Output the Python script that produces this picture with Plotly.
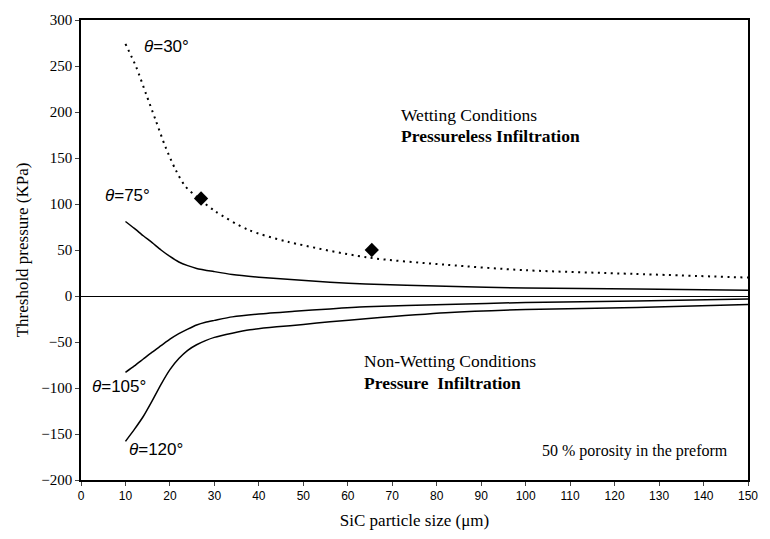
import plotly.graph_objects as go

# theta = 30 deg (dotted)
x30 = [10, 12.4, 14.6, 16.8, 19, 21.3, 23.5, 26.5, 30.2, 37.6, 46.5, 64.3, 82, 100, 124.5, 150]
y30 = [274, 249, 220, 191, 162, 137, 119, 106, 92, 72, 59, 42, 34, 28, 24, 20]
# theta = 75 deg
x75 = [10, 12, 14, 16, 18, 20, 22, 24, 26, 30, 34, 40, 48, 56, 64, 82, 100, 125, 150]
y75 = [81, 73.5, 65.5, 58, 50, 43, 37, 33, 30, 26.5, 23.4, 20.5, 17.6, 15, 13, 10.5, 8.7, 7.6, 6.2]
# theta = 105 deg
x105 = [10, 12, 14, 16, 18, 20, 22, 24, 26, 28, 30, 34, 40, 48, 56, 64, 82, 100, 125, 150]
y105 = [-83, -76, -68.5, -61, -54, -47, -41, -36, -31.5, -28.5, -26.5, -22.7, -19.5, -16.6, -14, -11.8, -9.3, -7, -5.5, -3.2]
# theta = 120 deg
x120 = [10, 12, 14, 16, 18, 20, 22, 24, 26, 28, 30, 34, 38, 44, 50, 56, 64, 82, 100, 125, 150]
y120 = [-158, -145, -131, -114, -96, -80, -68, -59, -53, -48.5, -45, -40.5, -36.8, -33.5, -31, -28, -24.7, -18.2, -14.7, -12.5, -9.3]
# experimental points
xexp = [27, 65.4]
yexp = [106, 50]

xticks = list(range(0, 151, 10))
yticks = list(range(-200, 301, 50))

fig = go.Figure()
line = dict(color="black", width=1.5, shape="spline", smoothing=0.6)
fig.add_trace(go.Scatter(x=x30, y=y30, mode="lines",
                         line=dict(color="black", width=2, dash="2px,4.5px", shape="spline", smoothing=0.8)))
fig.add_trace(go.Scatter(x=x75, y=y75, mode="lines", line=line))
fig.add_trace(go.Scatter(x=x105, y=y105, mode="lines", line=line))
fig.add_trace(go.Scatter(x=x120, y=y120, mode="lines", line=line))
fig.add_trace(go.Scatter(x=xexp, y=yexp, mode="markers",
                         marker=dict(symbol="diamond", size=11, color="black")))

SANS = "Liberation Sans, Arial"
SERIF = "Liberation Serif, Times New Roman"
sans = dict(family=SANS, size=17, color="black")
serif = dict(family=SERIF, size=17.5, color="black")

anns = [
    (14.2, 271, "<i>θ</i>=30°", sans),
    (5.3, 109, "<i>θ</i>=75°", sans),
    (2.5, -98, "<i>θ</i>=105°", sans),
    (10.7, -167, "<i>θ</i>=120°", sans),
    (72, 197, "Wetting Conditions", serif),
    (72, 173.5, "<b>Pressureless Infiltration</b>", serif),
    (63.6, -71, "Non-Wetting Conditions", serif),
    (63.6, -95, "<b>Pressure  Infiltration</b>", serif),
]
for x, y, t, f in anns:
    fig.add_annotation(x=x, y=y, text=t, showarrow=False, font=f, xanchor="left",
                       yanchor="middle", xshift=-2)
fig.add_annotation(x=146, y=-168, text="50 % porosity in the preform", showarrow=False,
                   font=dict(family=SERIF, size=16, color="black"),
                   xanchor="right", yanchor="middle")

fig.update_layout(
    width=770, height=539,
    margin=dict(l=81, r=13, t=18, b=58),
    plot_bgcolor="white", paper_bgcolor="white",
    showlegend=False,
    hovermode=False,
    xaxis=dict(range=[0, 150], tickvals=xticks, ticks="outside", ticklen=4,
               showgrid=False, zeroline=False, showline=True, linecolor="black",
               linewidth=1.5, mirror=True,
               tickfont=dict(family=SANS, size=12, color="black"),
               title=dict(text="SiC particle size (μm)",
                          font=dict(family=SERIF, size=17, color="black"), standoff=12)),
    yaxis=dict(range=[-200, 300], tickvals=yticks, ticks="outside", ticklen=4,
               showgrid=False, zeroline=True, zerolinecolor="black", zerolinewidth=1.3,
               showline=True, linecolor="black", linewidth=1.5, mirror=True,
               tickfont=dict(family=SERIF, size=15, color="black"),
               title=dict(text="Threshold pressure (KPa)",
                          font=dict(family=SERIF, size=17, color="black"), standoff=8)),
)

fig.write_html("out.html", config={"displayModeBar": False},
               post_script="document.body.style.margin='0';document.body.style.padding='0';document.body.style.overflow='hidden';")
